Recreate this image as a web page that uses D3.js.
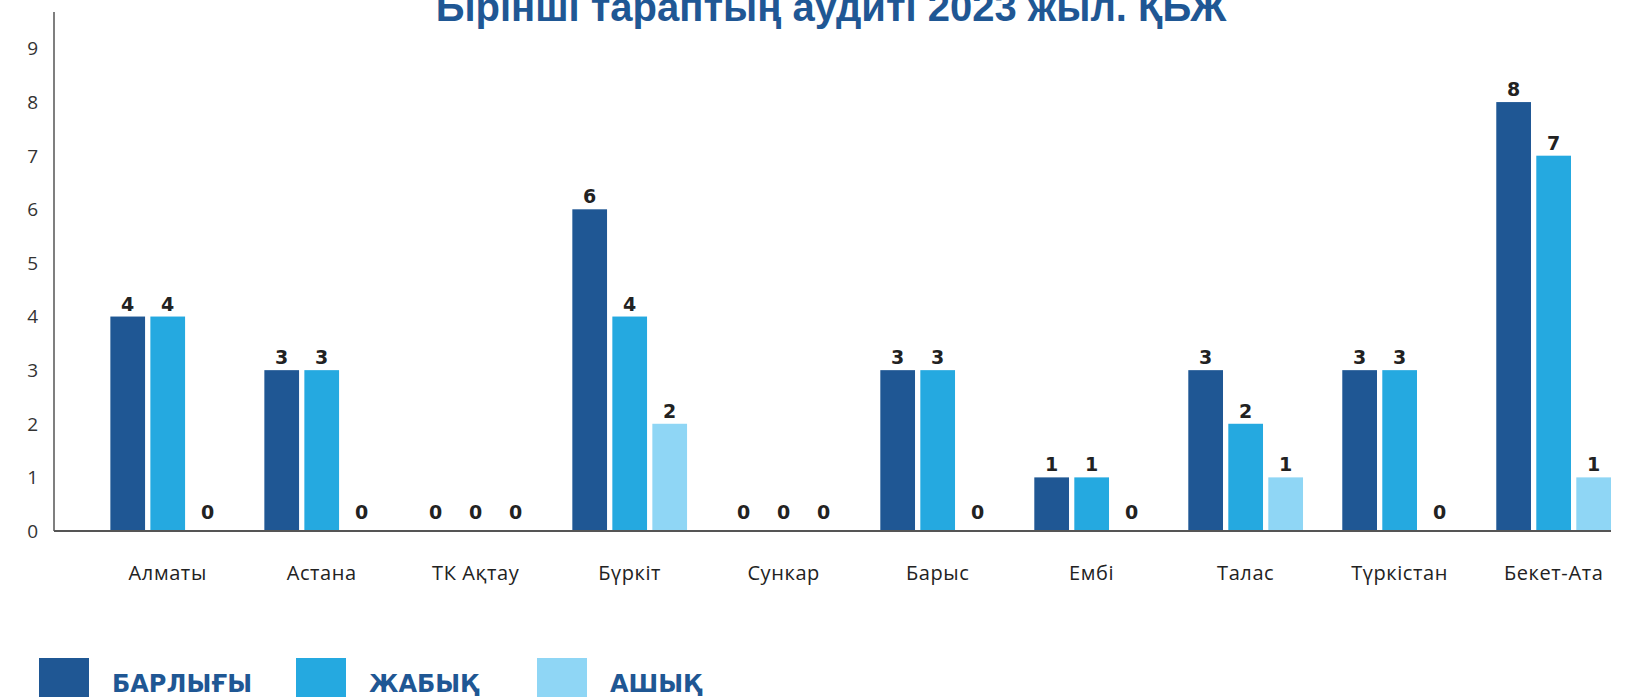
<!DOCTYPE html>
<html>
<head>
<meta charset="utf-8">
<script src="https://cdn.jsdelivr.net/npm/d3@7"></script>
<style>
  html, body { margin: 0; padding: 0; background: #fff; overflow: hidden; }
  svg { display: block; }
</style>
</head>
<body>
<div id="chart"></div>
<script>
const categories = ["Алматы", "Астана", "ТК Ақтау", "Бүркіт", "Сункар", "Барыс", "Ембі", "Талас", "Түркістан", "Бекет-Ата"];
const seriesNames = ["БАРЛЫҒЫ", "ЖАБЫҚ", "АШЫҚ"];
const totalVals = [4, 3, 0, 6, 0, 3, 1, 3, 3, 8];
const closedVals = [4, 3, 0, 4, 0, 3, 1, 2, 3, 7];
const openVals = [0, 0, 0, 2, 0, 0, 0, 1, 0, 1];
const yTicks = [0, 1, 2, 3, 4, 5, 6, 7, 8, 9];
const titleText = "Бірінші тараптың аудиті 2023 жыл. ҚБЖ";

const colors = ["#1f5794", "#25a9e0", "#8fd6f5"];
const W = 1643, H = 697;

const rows = categories.map((c, i) => ({
  cat: c,
  vals: [totalVals[i], closedVals[i], openVals[i]]
}));

const svg = d3.select("#chart").append("svg")
  .attr("width", W).attr("height", H)
  .attr("viewBox", `0 0 ${W} ${H}`);

// plot area
const axisX = 54, baseY = 531, topY = 12, rightX = 1611;

const y = d3.scaleLinear().domain([0, 9.68]).range([baseY, topY]);

const x0 = d3.scaleBand()
  .domain(categories)
  .range([axisX, rightX])
  .paddingInner(0.255)
  .paddingOuter(0.183)
  .align(1);

const x1 = d3.scaleBand()
  .domain(d3.range(3))
  .range([0, x0.bandwidth()])
  .paddingInner(0.1325);

// title (clipped at top like the original)
svg.append("text")
  .attr("x", 831).attr("y", 21)
  .attr("text-anchor", "middle")
  .attr("font-family", "'Liberation Sans', Arial, sans-serif")
  .attr("font-weight", "bold")
  .attr("font-size", 40)
  .attr("fill", "#1f5794")
  .text(titleText);

// y tick labels
svg.append("g").selectAll("text")
  .data(yTicks)
  .enter().append("text")
  .attr("x", 38)
  .attr("y", d => y(d))
  .attr("dy", "0.36em")
  .attr("text-anchor", "end")
  .attr("font-family", "'Open Sans', sans-serif")
  .attr("font-size", 19)
  .attr("fill", "#333")
  .text(d => d);

// bars
const groups = svg.append("g").selectAll("g")
  .data(rows)
  .enter().append("g")
  .attr("transform", d => `translate(${x0(d.cat)},0)`);

groups.selectAll("rect")
  .data(d => d.vals.map((v, i) => ({ v, i })))
  .enter().append("rect")
  .attr("x", d => x1(d.i))
  .attr("width", x1.bandwidth())
  .attr("y", d => y(d.v))
  .attr("height", d => y(0) - y(d.v))
  .attr("fill", d => colors[d.i]);

groups.selectAll("text")
  .data(d => d.vals.map((v, i) => ({ v, i })))
  .enter().append("text")
  .attr("x", d => x1(d.i) + x1.bandwidth() / 2)
  .attr("y", d => Math.min(y(d.v) - 6, y(0) - 12))
  .attr("text-anchor", "middle")
  .attr("font-family", "'DejaVu Sans', sans-serif")
  .attr("font-weight", "bold")
  .attr("font-size", 19)
  .attr("fill", "#222")
  .text(d => d.v);

// axis lines
svg.append("line")
  .attr("x1", axisX).attr("x2", axisX)
  .attr("y1", topY).attr("y2", baseY)
  .attr("stroke", "#555").attr("stroke-width", 1.5);
svg.append("line")
  .attr("x1", axisX).attr("x2", rightX)
  .attr("y1", baseY).attr("y2", baseY)
  .attr("stroke", "#555").attr("stroke-width", 2);

// category labels
svg.append("g").selectAll("text")
  .data(categories)
  .enter().append("text")
  .attr("x", d => x0(d) + x0.bandwidth() / 2)
  .attr("y", 580)
  .attr("text-anchor", "middle")
  .attr("font-family", "'Open Sans', sans-serif")
  .attr("font-size", 20)
  .attr("letter-spacing", 0.6)
  .attr("fill", "#222")
  .text(d => d);

// legend
const legendX = [39, 296, 537];
const legend = svg.append("g").selectAll("g")
  .data(seriesNames)
  .enter().append("g")
  .attr("transform", (d, i) => `translate(${legendX[i]},658)`);

legend.append("rect")
  .attr("width", 50).attr("height", 50)
  .attr("fill", (d, i) => colors[i]);

legend.append("text")
  .attr("x", 73).attr("y", 34)
  .attr("font-family", "'DejaVu Sans', sans-serif")
  .attr("font-weight", "bold")
  .attr("font-size", 24)
  .attr("fill", "#1f5794")
  .text(d => d);
</script>
</body>
</html>
